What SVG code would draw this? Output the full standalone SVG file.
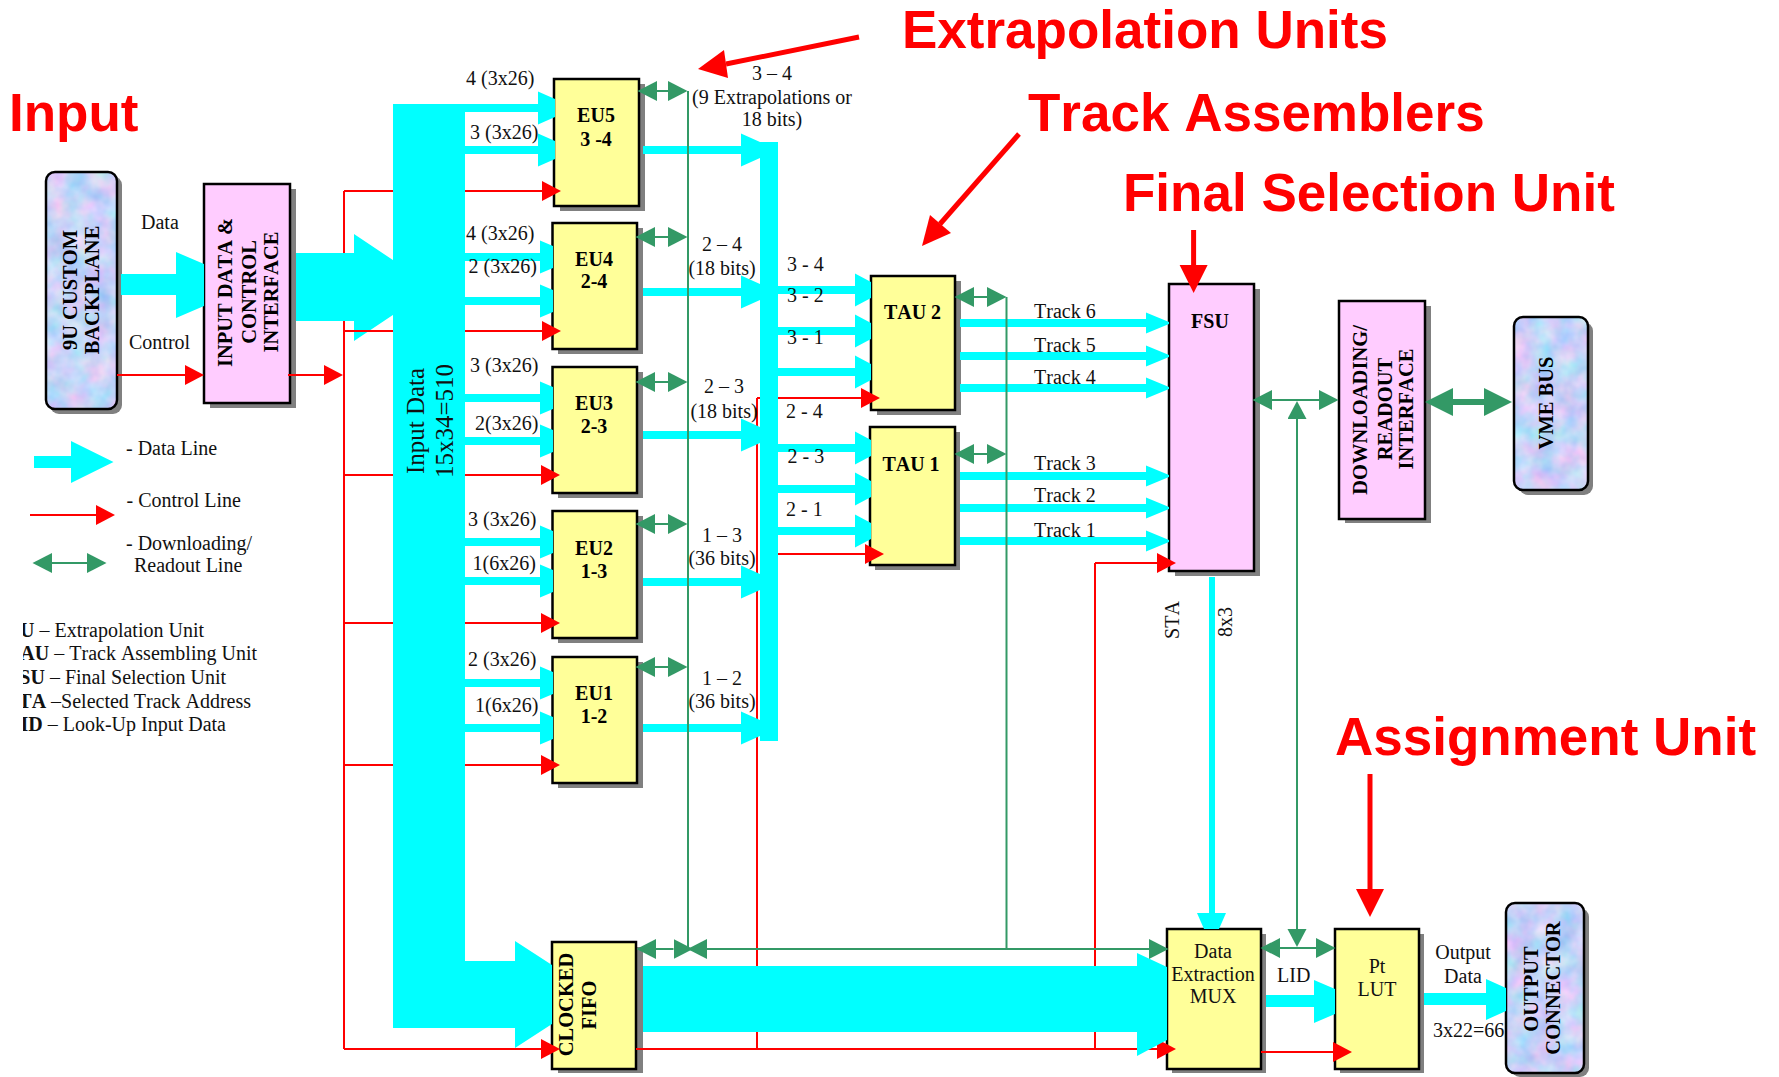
<svg xmlns="http://www.w3.org/2000/svg" width="1779" height="1077" viewBox="0 0 1779 1077">
<style>
text{font-family:"Liberation Serif","Times New Roman",serif;font-size:20px;fill:#111;font-kerning:none}
.b{font-weight:bold;text-anchor:middle;fill:#000}
.b[transform]{font-size:20.5px}
.m{text-anchor:middle}
.e{text-anchor:end}
.h{font-family:"Liberation Sans",Arial,sans-serif;font-weight:bold;font-size:53px;fill:#f00}
.s{fill:#808080}
.y{fill:#ff9;stroke:#000;stroke-width:2.5}
.p{fill:#fcf;stroke:#000;stroke-width:2.5}
.o{fill:none;stroke:#000;stroke-width:2.5}
.c{fill:#0ff}
.r{stroke:#f00;stroke-width:2;fill:none}
.g{stroke:#396;stroke-width:2;fill:none}
.ra{stroke:#f00;stroke-width:5;fill:none}
.rf{fill:#f00}
</style>
<defs>
<filter id="tex" x="0" y="0" width="1" height="1" color-interpolation-filters="sRGB">
<feTurbulence type="fractalNoise" baseFrequency="0.045" numOctaves="3" seed="4" result="n"/>
<feColorMatrix in="n" type="matrix" values=".5 0 0 0 .53  0 .25 0 0 .7  0 0 .1 0 .92  0 0 0 0 1"/>
<feComposite in2="SourceGraphic" operator="in"/>
</filter>
<marker id="rm" markerUnits="userSpaceOnUse" markerWidth="20" markerHeight="22" refX="0" refY="10" orient="auto"><path d="M0 0L19 10L0 20Z" fill="#f00"/></marker>
<marker id="gm" markerUnits="userSpaceOnUse" markerWidth="20" markerHeight="22" refX="0" refY="10" orient="auto-start-reverse"><path d="M0 0L19.500 10L0 20Z" fill="#396"/></marker>
<marker id="gv" markerUnits="userSpaceOnUse" markerWidth="20" markerHeight="22" refX="0" refY="9.500" orient="auto"><path d="M0 0L18 9.500L0 19Z" fill="#396"/></marker>
<marker id="gt" markerUnits="userSpaceOnUse" markerWidth="30" markerHeight="30" refX="0" refY="14" orient="auto-start-reverse"><path d="M0 0L28 14L0 28Z" fill="#396"/></marker>
<path id="ci" d="M465 -4H540V-16.500L553 -11V11L540 16.500V4H465Z"/>
<path id="ct" d="M465 -4H538V-16.500L555 -9V9L538 16.500V4H465Z"/>
<path id="eo" d="M643 -4H741V-16.500L760 -8V8L741 16.500V4H643Z"/>
<path id="ti" d="M778 -4H855V-16.500L871 -8V8L855 16.500V4H778Z"/>
<path id="tr" d="M960 -4H1146V-10.500L1169 -1V1L1146 10.500V4H960Z"/>
<clipPath id="gl"><rect x="23" y="615" width="300" height="130"/></clipPath>
</defs>
<rect width="1779" height="1077" fill="#fff"/>

<g id="backplane">
<rect class="s" x="50" y="176" width="72" height="238" rx="9"/>
<rect x="46" y="172" width="71" height="237" rx="9" fill="#c6d4f8" filter="url(#tex)"/>
<rect class="o" x="46" y="172" width="71" height="237" rx="9"/>
<text class="b" transform="translate(77 290) rotate(-90)">9U CUSTOM</text>
<text class="b" transform="translate(99 290) rotate(-90)">BACKPLANE</text>
</g>
<g id="input-interface">
<rect class="s" x="210" y="189" width="86" height="219"/>
<rect class="p" x="204" y="184" width="86" height="219"/>
<text class="b" transform="translate(232 292.500) rotate(-90)">INPUT DATA &amp;</text>
<text class="b" transform="translate(256 292) rotate(-90)">CONTROL</text>
<text class="b" transform="translate(278 292) rotate(-90)">INTERFACE</text>
</g>
<g id="eu5">
<rect class="s" x="560" y="84" width="85" height="127"/>
<rect class="y" x="554" y="79" width="85" height="127"/>
<text class="b" x="596" y="122">EU5</text><text class="b" x="596" y="146">3 -4</text>
</g>
<g id="eu4">
<rect class="s" x="558" y="228" width="85" height="126"/>
<rect class="y" x="552.500" y="223" width="84.500" height="126"/>
<text class="b" x="594" y="266">EU4</text><text class="b" x="594" y="288">2-4</text>
</g>
<g id="eu3">
<rect class="s" x="558" y="372" width="85" height="126"/>
<rect class="y" x="552.500" y="367" width="84.500" height="126"/>
<text class="b" x="594" y="410">EU3</text><text class="b" x="594" y="433">2-3</text>
</g>
<g id="eu2">
<rect class="s" x="558" y="516" width="85" height="127"/>
<rect class="y" x="552.500" y="511" width="84.500" height="127"/>
<text class="b" x="594" y="555">EU2</text><text class="b" x="594" y="578">1-3</text>
</g>
<g id="eu1">
<rect class="s" x="558" y="662" width="85" height="126"/>
<rect class="y" x="552.500" y="657" width="84.500" height="126"/>
<text class="b" x="594" y="700">EU1</text><text class="b" x="594" y="723">1-2</text>
</g>
<g id="tau2">
<rect class="s" x="877" y="281" width="84" height="134"/>
<rect class="y" x="871" y="276" width="84" height="134"/>
<text class="b" x="912.500" y="319">TAU 2</text>
</g>
<g id="tau1">
<rect class="s" x="875" y="432" width="85" height="138"/>
<rect class="y" x="870" y="427" width="85" height="138"/>
<text class="b" x="911" y="471">TAU 1</text>
</g>
<g id="fsu">
<rect class="s" x="1175" y="289" width="85" height="287"/>
<rect class="p" x="1169" y="284" width="85" height="287"/>
<text class="b" x="1210" y="328">FSU</text>
</g>
<g id="download">
<rect class="s" x="1345" y="306" width="86" height="217"/>
<rect class="p" x="1339" y="301" width="86" height="218"/>
<text class="b" transform="translate(1367 410) rotate(-90)">DOWNLOADING/</text>
<text class="b" transform="translate(1392 409) rotate(-90)">READOUT</text>
<text class="b" transform="translate(1413 409) rotate(-90)">INTERFACE</text>
</g>
<g id="vme">
<rect class="s" x="1519" y="322" width="74" height="173" rx="9"/>
<rect x="1514" y="317" width="74" height="173" rx="9" fill="#c6d4f8" filter="url(#tex)"/>
<rect class="o" x="1514" y="317" width="74" height="173" rx="9"/>
<text class="b" transform="translate(1552.500 403) rotate(-90)">VME BUS</text>
</g>
<g id="fifo">
<rect class="s" x="558" y="947" width="85" height="126"/>
<rect class="y" x="552" y="942" width="84" height="127"/>
<text class="b" transform="translate(573 1004.500) rotate(-90)">CLOCKED</text>
<text class="b" transform="translate(595.500 1005) rotate(-90)">FIFO</text>
</g>
<g id="mux">
<rect class="s" x="1172" y="934" width="94" height="139"/>
<rect class="y" x="1167" y="929" width="94" height="140"/>
<text class="m" x="1213" y="958">Data</text><text class="m" x="1213" y="981">Extraction</text><text class="m" x="1213" y="1003">MUX</text>
</g>
<g id="lut">
<rect class="s" x="1340" y="934" width="84" height="139"/>
<rect class="y" x="1335" y="929" width="84" height="140"/>
<text class="m" x="1377" y="973">Pt</text><text class="m" x="1377" y="996">LUT</text>
</g>
<g id="output-connector">
<rect class="s" x="1511" y="908" width="78" height="169" rx="9"/>
<rect x="1506" y="903" width="78" height="170" rx="9" fill="#c6d4f8" filter="url(#tex)"/>
<rect class="o" x="1506" y="903" width="78" height="170" rx="9"/>
<text class="b" transform="translate(1537.500 989) rotate(-90)">OUTPUT</text>
<text class="b" transform="translate(1560 988) rotate(-90)">CONNECTOR</text>
</g>

<g id="connectors">
<path class="r" d="M344 191V1049M757 398V1049M1095 1049V563"/>
<path class="c" d="M121 274H176V252L204 264V306L176 318V295H121Z"/>
<path class="c" d="M296 253H354V234L434 287.500L354 341V321H296Z"/>
<path class="r" d="M344 191H393M344 331H393M344 475H393M344 623H393M344 765H393"/>
<path class="r" d="M757 398H762"/>
<path class="r" d="M636 1049H1157" marker-end="url(#rm)"/>
<path class="r" d="M1095 563H1157" marker-end="url(#rm)"/>
<path class="c" d="M393 104H465V961H515V941L552 965V1024L515 1048V1028H393Z"/>
<path class="c" d="M643 966H1137V953L1167 967V1040L1137 1056V1032H643Z"/>
<path class="c" d="M1266 995H1314V980L1335 989V1014L1314 1023V1007H1266Z"/>
<path class="c" d="M1424 993H1486V979L1506 988V1011L1486 1020V1005H1424Z"/>
<path class="c" d="M1209 577H1215V913H1226L1219 929H1204L1197 913H1209Z"/>
<g class="c">
<use href="#ct" y="108"/><use href="#ct" y="150"/>
<use href="#ci" y="257"/><use href="#ci" y="301"/>
<use href="#ci" y="398"/><use href="#ci" y="441"/>
<use href="#ci" y="542"/><use href="#ci" y="581"/>
<use href="#ci" y="683"/><use href="#ci" y="728"/>
<use href="#eo" y="150"/><use href="#eo" y="292"/><use href="#eo" y="435"/><use href="#eo" y="582"/><use href="#eo" y="728"/>
<rect x="760" y="142" width="18" height="599"/>
<use href="#ti" y="290"/><use href="#ti" y="331"/><use href="#ti" y="372"/>
<use href="#ti" y="448"/><use href="#ti" y="489"/><use href="#ti" y="531"/>
<use href="#tr" y="323"/><use href="#tr" y="356"/><use href="#tr" y="388"/>
<use href="#tr" y="476"/><use href="#tr" y="508"/><use href="#tr" y="541"/>
</g>
<g class="r">
<path d="M117 375H185" marker-end="url(#rm)"/>
<path d="M288 375H324" marker-end="url(#rm)"/>
<path d="M465 191H542" marker-end="url(#rm)"/>
<path d="M465 331H542" marker-end="url(#rm)"/>
<path d="M465 475H541" marker-end="url(#rm)"/>
<path d="M465 623H541" marker-end="url(#rm)"/>
<path d="M465 765H541" marker-end="url(#rm)"/>
<path d="M344 1049H541" marker-end="url(#rm)"/>
<path d="M778 398H861" marker-end="url(#rm)"/>
<path d="M778 554H865" marker-end="url(#rm)"/>
<path d="M1261 1052H1333" marker-end="url(#rm)"/>
<path d="M30 515H96" marker-end="url(#rm)"/>
</g>
<g class="g">
<path d="M688 91V949M1006.500 297V949M707 949H1148"/>
<path d="M657 91H668" marker-start="url(#gm)" marker-end="url(#gm)"/>
<path d="M655 237H668" marker-start="url(#gm)" marker-end="url(#gm)"/>
<path d="M655 382H668" marker-start="url(#gm)" marker-end="url(#gm)"/>
<path d="M655 524H668" marker-start="url(#gm)" marker-end="url(#gm)"/>
<path d="M655 667H668" marker-start="url(#gm)" marker-end="url(#gm)"/>
<path d="M974 297H987" marker-start="url(#gm)" marker-end="url(#gm)"/>
<path d="M974 454H987" marker-start="url(#gm)" marker-end="url(#gm)"/>
<path d="M656 949H673.500" marker-start="url(#gm)" marker-end="url(#gm)"/>
<path d="M707 949H708" marker-start="url(#gm)"/>
<path d="M1148 949H1149" marker-end="url(#gm)"/>
<path d="M1280 948H1316" marker-start="url(#gm)" marker-end="url(#gm)"/>
<path d="M1272 400H1319" marker-start="url(#gm)" marker-end="url(#gm)"/>
<path d="M1297 420V928"/>
<path d="M1297 420V419" marker-end="url(#gv)"/>
<path d="M1297 928V929" marker-end="url(#gv)"/>
<path d="M52 563H87" marker-start="url(#gm)" marker-end="url(#gm)"/>
<path style="stroke-width:6" d="M1453 402H1484" marker-start="url(#gt)" marker-end="url(#gt)"/>
</g>
<path class="c" d="M34 456H71V441L113.500 462L71 483V468H34Z"/>
<g>
<path class="ra" d="M859 37L726 64"/><path class="rf" d="M698 69L724 50L728 78Z"/>
<path class="ra" d="M1019 134L940 224"/><path class="rf" d="M922 246L930 215L951 233Z"/>
<path class="ra" d="M1193.600 230V265"/><path class="rf" d="M1179.600 265H1207.600L1193.600 293Z"/>
<path class="ra" d="M1370 774V889"/><path class="rf" d="M1356 889H1384L1370 917Z"/>
</g>
</g>

<g id="labels">
<text class="h" x="9" y="131">Input</text>
<text class="h" x="902" y="48">Extrapolation Units</text>
<text class="h" x="1028" y="131">Track Assemblers</text>
<text class="h" x="1123" y="211">Final Selection Unit</text>
<text class="h" x="1335" y="755">Assignment Unit</text>
<text x="141" y="229">Data</text>
<text x="129" y="349">Control</text>
<text x="126" y="455">- Data Line</text>
<text x="126.500" y="507">- Control Line</text>
<text x="126" y="550">- Downloading/</text>
<text x="134" y="572">Readout Line</text>
<g clip-path="url(#gl)">
<text class="e" x="204" y="637"><tspan font-weight="bold">EU</tspan> – Extrapolation Unit</text>
<text class="e" x="257" y="660"><tspan font-weight="bold">TAU</tspan> – Track Assembling Unit</text>
<text class="e" x="226" y="684"><tspan font-weight="bold">FSU</tspan> – Final Selection Unit</text>
<text class="e" x="251" y="708"><tspan font-weight="bold">STA</tspan> –Selected Track Address</text>
<text class="e" x="226" y="731"><tspan font-weight="bold">LID</tspan> – Look-Up Input Data</text>
</g>
<text class="m" style="font-size:25px" transform="translate(424 421) rotate(-90)">Input Data</text>
<text class="m" style="font-size:25px" transform="translate(452.500 421) rotate(-90)">15x34=510</text>
<text x="466" y="85">4 (3x26)</text>
<text x="470" y="139">3 (3x26)</text>
<text x="466" y="240">4 (3x26)</text>
<text x="468.500" y="273">2 (3x26)</text>
<text x="470" y="372">3 (3x26)</text>
<text x="475" y="430">2(3x26)</text>
<text x="468" y="526">3 (3x26)</text>
<text x="472.500" y="570">1(6x26)</text>
<text x="468" y="666">2 (3x26)</text>
<text x="475" y="712">1(6x26)</text>
<text class="m" x="772" y="80">3 – 4</text>
<text class="m" x="772" y="104">(9 Extrapolations or</text>
<text class="m" x="772" y="126">18 bits)</text>
<text class="m" x="722" y="251">2 – 4</text>
<text class="m" x="722" y="275">(18 bits)</text>
<text class="m" x="724" y="393">2 – 3</text>
<text class="m" x="724" y="418">(18 bits)</text>
<text class="m" x="722" y="542">1 – 3</text>
<text class="m" x="722" y="565">(36 bits)</text>
<text class="m" x="722" y="685">1 – 2</text>
<text class="m" x="722" y="708">(36 bits)</text>
<text x="787" y="271">3 - 4</text>
<text x="787" y="302">3 - 2</text>
<text x="787" y="344">3 - 1</text>
<text x="786" y="418">2 - 4</text>
<text x="787.500" y="463">2 - 3</text>
<text x="786" y="516">2 - 1</text>
<text x="1034" y="318">Track 6</text>
<text x="1034" y="352">Track 5</text>
<text x="1034" y="384">Track 4</text>
<text x="1034" y="470">Track 3</text>
<text x="1034" y="502">Track 2</text>
<text x="1034" y="537">Track 1</text>
<text class="m" transform="translate(1179 620) rotate(-90)">STA</text>
<text class="m" transform="translate(1232 622) rotate(-90)">8x3</text>
<text x="1277" y="982">LID</text>
<text class="m" x="1463" y="959">Output</text>
<text class="m" x="1463" y="983">Data</text>
<text x="1433" y="1037">3x22=66</text>
</g>
</svg>
